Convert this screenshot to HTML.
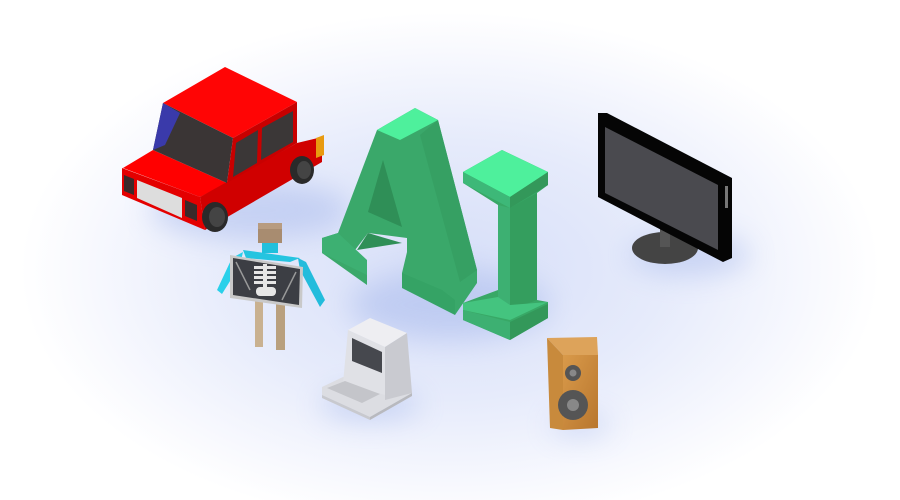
<!DOCTYPE html>
<html><head><meta charset="utf-8"><style>html,body{margin:0;padding:0;background:#fff}svg{display:block}</style></head>
<body><svg width="900" height="500" viewBox="0 0 900 500" xmlns="http://www.w3.org/2000/svg">
<defs>
<radialGradient id="bg" cx="450" cy="270" r="430" gradientUnits="userSpaceOnUse" gradientTransform="translate(450 270) scale(1 0.6) translate(-450 -270)">
<stop offset="0" stop-color="#d6def8"/><stop offset="0.5" stop-color="#e6ebfb"/><stop offset="0.85" stop-color="#f8f9fe"/><stop offset="1" stop-color="#ffffff"/></radialGradient>
<linearGradient id="wood" x1="0" y1="0" x2="1" y2="1"><stop offset="0" stop-color="#d99a4a"/><stop offset="1" stop-color="#b8762e"/></linearGradient>
<filter id="blur" x="-50%" y="-50%" width="200%" height="200%"><feGaussianBlur stdDeviation="14"/></filter>
</defs>
<rect width="900" height="500" fill="#fff"/>
<rect width="900" height="500" fill="url(#bg)"/>
<!-- shadows -->
<g filter="url(#blur)" opacity="0.45">
<ellipse cx="250" cy="210" rx="100" ry="30" fill="#9fb2ea"/>
<ellipse cx="450" cy="305" rx="100" ry="35" fill="#9fb2ea"/>
<ellipse cx="690" cy="255" rx="60" ry="20" fill="#9fb2ea"/>
<ellipse cx="370" cy="405" rx="50" ry="15" fill="#9fb2ea"/>
<ellipse cx="580" cy="425" rx="30" ry="10" fill="#9fb2ea"/>
</g>

<!-- CAR -->
<polygon points="123,168 153,150 227,183 200,197" fill="#ff0000"/>
<polygon points="122,168 200,197 205,230 122,195" fill="#e40000"/>
<polygon points="200,197 225,183 297,143 322,137 322,162 205,230" fill="#d00000"/>
<polygon points="163,103 225,67 297,102 233,138" fill="#ff0505"/>
<polygon points="163,103 233,138 227,183 153,150" fill="#3a3535"/>
<polygon points="163,103 180,113 165,145 153,150" fill="#3a3aaa"/>
<polygon points="233,138 297,102 297,143 227,183" fill="#c80000"/>
<polygon points="236,143 258,130 257,163 233,177" fill="#3b3737"/>
<polygon points="262,128 293,111 293,142 261,160" fill="#3b3737"/>
<polygon points="137,180 182,198 182,218 137,198" fill="#ddd"/>
<polygon points="124,175 134,179 134,195 124,191" fill="#3a2a2a"/>
<polygon points="185,200 197,205 197,221 185,216" fill="#3a2a2a"/>
<polygon points="316,138 324,135 324,155 316,158" fill="#e89a10"/>
<ellipse cx="215" cy="217" rx="13" ry="15" fill="#2a2a2a"/>
<ellipse cx="302" cy="170" rx="12" ry="14" fill="#2a2a2a"/>
<ellipse cx="217" cy="217" rx="8" ry="10" fill="#444"/>
<ellipse cx="304" cy="170" rx="7" ry="9" fill="#444"/>

<!-- A -->
<polygon points="377,130 415,108 438,120 477,270 477,283 455,315 443,300 402,285 402,273 407,252 407,238 368,233 355,250 367,275 367,285 322,253 322,238 338,233" fill="#3aa86a"/>
<polygon points="438,120 477,270 460,282 420,135" fill="#36a063"/>
<polygon points="377,130 415,108 438,120 400,140" fill="#4ef09c"/>
<polygon points="383,160 402,227 368,212" fill="#2f8f57"/>
<polygon points="368,233 402,243 357,250" fill="#2f8f57"/>
<polygon points="322,238 338,233 367,260 367,275 322,253" fill="#3db072"/>
<polygon points="402,273 442,290 455,300 455,315 402,288" fill="#35a365"/>

<!-- I -->
<polygon points="463,303 498,290 498,205 463,183 463,172 502,150 548,172 548,185 537,193 537,300 548,302 548,318 510,340 463,320" fill="#38a866"/>
<polygon points="498,205 510,208 510,310 498,317" fill="#3db072"/>
<polygon points="510,208 537,193 537,300 510,310" fill="#349e5e"/>
<polygon points="463,172 502,150 548,172 510,197" fill="#4ef09c"/>
<polygon points="463,172 510,197 510,208 463,183" fill="#3db878"/>
<polygon points="510,197 548,172 548,185 510,208" fill="#33985a"/>
<polygon points="463,303 498,297 510,305 548,302 510,320 463,310" fill="#44c47f"/>
<polygon points="463,310 510,322 510,340 463,320" fill="#3db072"/>
<polygon points="510,322 548,304 548,318 510,340" fill="#33985a"/>

<!-- TV -->
<ellipse cx="665" cy="248" rx="33" ry="16" fill="#444"/>
<rect x="660" y="225" width="10" height="22" fill="#555"/>
<polygon points="598,113 607,113 732,178 732,258 723,262 598,197" fill="#050505"/>
<polygon points="605,127 718,185 718,250 605,193" fill="#4a4a4f"/>
<rect x="725" y="186" width="3" height="22" fill="#777"/>

<!-- person -->
<rect x="255" y="300" width="8" height="47" fill="#c9b190"/>
<rect x="276" y="303" width="9" height="47" fill="#b9a07e"/>
<polygon points="243,250 300,258 290,262 246,258" fill="#25c4e0"/>
<polygon points="243,252 232,258 217,290 222,294 240,265" fill="#2ad0ea"/>
<polygon points="298,258 306,262 325,300 320,307 300,270" fill="#22bcdc"/>
<rect x="258" y="223" width="24" height="20" fill="#a88c70"/>
<rect x="258" y="223" width="24" height="6" fill="#b89c80"/>
<rect x="262" y="243" width="16" height="10" fill="#20c0dc"/>
<polygon points="230,255 303,267 302,308 230,298" fill="#c9c9c9"/>
<polygon points="233,258 300,269 299,305 233,295" fill="#3c3e44"/>
<g fill="#e6e6e6">
<rect x="263" y="264" width="4" height="24"/>
<rect x="254" y="266" width="22" height="3"/>
<rect x="254" y="271" width="22" height="3"/>
<rect x="254" y="276" width="22" height="3"/>
<rect x="254" y="281" width="22" height="3"/>
<rect x="256" y="287" width="20" height="9" rx="4"/>
</g>
<line x1="236" y1="262" x2="250" y2="290" stroke="#999" stroke-width="1.5"/>
<line x1="296" y1="272" x2="282" y2="300" stroke="#999" stroke-width="1.5"/>

<!-- computer -->
<polygon points="322,387 343,377 412,393 370,417 322,395" fill="#dcdde2"/>
<polygon points="322,395 370,417 370,420 322,398" fill="#c8c9ce"/>
<polygon points="370,417 412,393 412,396 370,420" fill="#b8b9be"/>
<polygon points="348,330 370,318 407,333 385,347" fill="#eeeef2"/>
<polygon points="348,330 385,347 385,395 343,383" fill="#e0e1e6"/>
<polygon points="385,347 407,333 412,393 385,400" fill="#c9cad0"/>
<polygon points="352,338 382,352 382,373 352,361" fill="#46484e"/>
<polygon points="327,388 345,381 380,394 362,403" fill="#c4c5ca"/>

<!-- speaker -->
<polygon points="547,338 597,337 598,355 563,355" fill="#dda35a"/>
<polygon points="547,338 563,355 563,430 550,428" fill="#c88a3c"/>
<polygon points="563,355 598,355 598,428 563,430" fill="url(#wood)"/>
<circle cx="573" cy="373" r="8" fill="#555"/><circle cx="573" cy="373" r="3.5" fill="#888"/>
<circle cx="573" cy="405" r="15" fill="#555"/><circle cx="573" cy="405" r="6" fill="#888"/>
</svg></body></html>
